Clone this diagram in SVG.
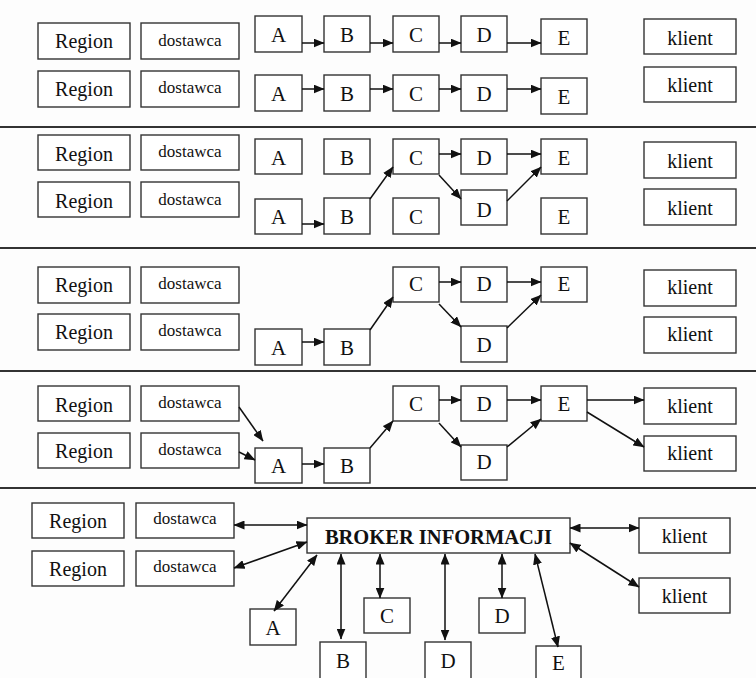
<svg xmlns="http://www.w3.org/2000/svg" width="756" height="678" viewBox="0 0 756 678">
  <defs>
    <marker id="ah" markerUnits="userSpaceOnUse" markerWidth="11" markerHeight="9" refX="10.5" refY="4.5" orient="auto-start-reverse" viewBox="0 0 11 9">
      <path d="M0,0 L11,4.5 L0,9 z" fill="#111"/>
    </marker>
  </defs>
  <style>
    .bg { fill: #fdfdfd; }
    .box { fill: #ffffff; stroke: #333; stroke-width: 1.4; }
    .sep { stroke: #333; stroke-width: 2; }
    text { font-family: "Liberation Serif", Tinos, "Times New Roman", "Noto Serif", "DejaVu Serif", serif; font-weight: normal; fill: #111; text-anchor: middle; }
    .reg { font-size: 20px; }
    .dos { font-size: 17px; }
    .let { font-size: 21px; }
    .kl { font-size: 20px; }
    .brk { font-size: 20.5px; font-weight: bold; }
    .c line { stroke: #111; stroke-width: 1.5; fill: none; marker-end: url(#ah); }
    .c line.bi { marker-start: url(#ah); }
  </style>

  <rect class="bg" x="0" y="0" width="756" height="678"/>

  <!-- band separators -->
  <g id="separators">
    <line class="sep" x1="0" y1="127" x2="756" y2="127"/>
    <line class="sep" x1="0" y1="248" x2="756" y2="248"/>
    <line class="sep" x1="0" y1="371" x2="756" y2="371"/>
    <line class="sep" x1="0" y1="488" x2="756" y2="488"/>
  </g>

  <!-- ===== band 1 ===== -->
  <g id="b1-region1"><rect class="box" x="38" y="23" width="92" height="36"/><text class="reg" x="84" y="48">Region</text></g>
  <g id="b1-dostawca1"><rect class="box" x="141" y="23" width="98" height="36"/><text class="dos" x="190" y="46">dostawca</text></g>
  <g id="b1-a1"><rect class="box" x="255" y="16" width="47" height="36"/><text class="let" x="278.5" y="42">A</text></g>
  <g id="b1-b1"><rect class="box" x="324" y="16" width="46" height="36"/><text class="let" x="347" y="42">B</text></g>
  <g id="b1-c1"><rect class="box" x="393" y="16" width="46" height="36"/><text class="let" x="416" y="42">C</text></g>
  <g id="b1-d1"><rect class="box" x="461" y="16" width="46" height="36"/><text class="let" x="484" y="42">D</text></g>
  <g id="b1-e1"><rect class="box" x="541" y="19" width="46" height="35"/><text class="let" x="564" y="45">E</text></g>
  <g id="b1-klient1"><rect class="box" x="644" y="19" width="92" height="35"/><text class="kl" x="690" y="45">klient</text></g>

  <g id="b1-region2"><rect class="box" x="38" y="71" width="92" height="36"/><text class="reg" x="84" y="96">Region</text></g>
  <g id="b1-dostawca2"><rect class="box" x="141" y="71" width="98" height="36"/><text class="dos" x="190" y="93">dostawca</text></g>
  <g id="b1-a2"><rect class="box" x="255" y="75" width="47" height="36"/><text class="let" x="278.5" y="101">A</text></g>
  <g id="b1-b2"><rect class="box" x="324" y="75" width="46" height="36"/><text class="let" x="347" y="101">B</text></g>
  <g id="b1-c2"><rect class="box" x="393" y="75" width="46" height="36"/><text class="let" x="416" y="101">C</text></g>
  <g id="b1-d2"><rect class="box" x="461" y="75" width="46" height="36"/><text class="let" x="484" y="101">D</text></g>
  <g id="b1-e2"><rect class="box" x="541" y="78" width="46" height="36"/><text class="let" x="564" y="104">E</text></g>
  <g id="b1-klient2"><rect class="box" x="644" y="67" width="92" height="35"/><text class="kl" x="690" y="92">klient</text></g>

  <!-- ===== band 2 ===== -->
  <g id="b2-region1"><rect class="box" x="38" y="135" width="92" height="35"/><text class="reg" x="84" y="161">Region</text></g>
  <g id="b2-dostawca1"><rect class="box" x="141" y="135" width="98" height="35"/><text class="dos" x="190" y="157">dostawca</text></g>
  <g id="b2-a1"><rect class="box" x="255" y="139" width="47" height="35"/><text class="let" x="278.5" y="165">A</text></g>
  <g id="b2-b1"><rect class="box" x="324" y="139" width="46" height="35"/><text class="let" x="347" y="165">B</text></g>
  <g id="b2-c1"><rect class="box" x="393" y="139" width="46" height="35"/><text class="let" x="416" y="165">C</text></g>
  <g id="b2-d1"><rect class="box" x="461" y="139" width="46" height="35"/><text class="let" x="484" y="165">D</text></g>
  <g id="b2-e1"><rect class="box" x="541" y="139" width="46" height="35"/><text class="let" x="564" y="165">E</text></g>
  <g id="b2-klient1"><rect class="box" x="644" y="142" width="92" height="36"/><text class="kl" x="690" y="168">klient</text></g>

  <g id="b2-region2"><rect class="box" x="38" y="182" width="92" height="35"/><text class="reg" x="84" y="208">Region</text></g>
  <g id="b2-dostawca2"><rect class="box" x="141" y="182" width="98" height="35"/><text class="dos" x="190" y="205">dostawca</text></g>
  <g id="b2-a2"><rect class="box" x="255" y="199" width="47" height="35"/><text class="let" x="278.5" y="224">A</text></g>
  <g id="b2-b2"><rect class="box" x="324" y="198" width="46" height="36"/><text class="let" x="347" y="224">B</text></g>
  <g id="b2-c2"><rect class="box" x="393" y="198" width="46" height="36"/><text class="let" x="416" y="224">C</text></g>
  <g id="b2-d2"><rect class="box" x="461" y="190" width="46" height="35"/><text class="let" x="484" y="217">D</text></g>
  <g id="b2-e2"><rect class="box" x="541" y="198" width="46" height="36"/><text class="let" x="564" y="224">E</text></g>
  <g id="b2-klient2"><rect class="box" x="644" y="189" width="92" height="36"/><text class="kl" x="690" y="215">klient</text></g>

  <!-- ===== band 3 ===== -->
  <g id="b3-region1"><rect class="box" x="38" y="267" width="92" height="36"/><text class="reg" x="84" y="292">Region</text></g>
  <g id="b3-dostawca1"><rect class="box" x="141" y="267" width="98" height="36"/><text class="dos" x="190" y="289">dostawca</text></g>
  <g id="b3-region2"><rect class="box" x="38" y="314" width="92" height="36"/><text class="reg" x="84" y="339">Region</text></g>
  <g id="b3-dostawca2"><rect class="box" x="141" y="314" width="98" height="36"/><text class="dos" x="190" y="336">dostawca</text></g>
  <g id="b3-a"><rect class="box" x="255" y="329" width="47" height="36"/><text class="let" x="278.5" y="355">A</text></g>
  <g id="b3-b"><rect class="box" x="324" y="329" width="46" height="36"/><text class="let" x="347" y="355">B</text></g>
  <g id="b3-c"><rect class="box" x="393" y="267" width="46" height="35"/><text class="let" x="416" y="291">C</text></g>
  <g id="b3-d1"><rect class="box" x="461" y="267" width="46" height="35"/><text class="let" x="484" y="291">D</text></g>
  <g id="b3-e"><rect class="box" x="541" y="267" width="46" height="35"/><text class="let" x="564" y="291">E</text></g>
  <g id="b3-d2"><rect class="box" x="461" y="326" width="46" height="36"/><text class="let" x="484" y="352">D</text></g>
  <g id="b3-klient1"><rect class="box" x="644" y="270" width="92" height="36"/><text class="kl" x="690" y="294">klient</text></g>
  <g id="b3-klient2"><rect class="box" x="644" y="317" width="92" height="36"/><text class="kl" x="690" y="341">klient</text></g>

  <!-- ===== band 4 ===== -->
  <g id="b4-region1"><rect class="box" x="38" y="386" width="92" height="35"/><text class="reg" x="84" y="412">Region</text></g>
  <g id="b4-dostawca1"><rect class="box" x="141" y="386" width="98" height="35"/><text class="dos" x="190" y="408">dostawca</text></g>
  <g id="b4-region2"><rect class="box" x="38" y="433" width="92" height="35"/><text class="reg" x="84" y="458">Region</text></g>
  <g id="b4-dostawca2"><rect class="box" x="141" y="433" width="98" height="35"/><text class="dos" x="190" y="455">dostawca</text></g>
  <g id="b4-a"><rect class="box" x="255" y="448" width="47" height="35"/><text class="let" x="278.5" y="473">A</text></g>
  <g id="b4-b"><rect class="box" x="324" y="448" width="46" height="35"/><text class="let" x="347" y="473">B</text></g>
  <g id="b4-c"><rect class="box" x="393" y="386" width="46" height="35"/><text class="let" x="416" y="411">C</text></g>
  <g id="b4-d1"><rect class="box" x="461" y="386" width="46" height="35"/><text class="let" x="484" y="411">D</text></g>
  <g id="b4-e"><rect class="box" x="541" y="386" width="46" height="35"/><text class="let" x="564" y="411">E</text></g>
  <g id="b4-d2"><rect class="box" x="461" y="445" width="46" height="35"/><text class="let" x="484" y="469">D</text></g>
  <g id="b4-klient1"><rect class="box" x="644" y="388" width="92" height="36"/><text class="kl" x="690" y="413">klient</text></g>
  <g id="b4-klient2"><rect class="box" x="644" y="436" width="92" height="35"/><text class="kl" x="690" y="460">klient</text></g>

  <!-- ===== band 5 ===== -->
  <g id="b5-region1"><rect class="box" x="32" y="503" width="92" height="35"/><text class="reg" x="78" y="528">Region</text></g>
  <g id="b5-dostawca1"><rect class="box" x="136" y="503" width="98" height="35"/><text class="dos" x="185" y="524">dostawca</text></g>
  <g id="b5-region2"><rect class="box" x="32" y="551" width="92" height="35"/><text class="reg" x="78" y="576">Region</text></g>
  <g id="b5-dostawca2"><rect class="box" x="136" y="551" width="98" height="35"/><text class="dos" x="185" y="572">dostawca</text></g>
  <g id="b5-broker"><rect class="box" x="307" y="518" width="263" height="35"/><text class="brk" x="438.5" y="544">BROKER INFORMACJI</text></g>
  <g id="b5-a"><rect class="box" x="250" y="609" width="46" height="36"/><text class="let" x="273" y="635">A</text></g>
  <g id="b5-b"><rect class="box" x="320" y="642" width="46" height="38"/><text class="let" x="343" y="668">B</text></g>
  <g id="b5-c"><rect class="box" x="364" y="598" width="46" height="35"/><text class="let" x="387" y="623">C</text></g>
  <g id="b5-d1"><rect class="box" x="425" y="642" width="46" height="38"/><text class="let" x="448" y="668">D</text></g>
  <g id="b5-d2"><rect class="box" x="479" y="598" width="46" height="35"/><text class="let" x="502" y="623">D</text></g>
  <g id="b5-e"><rect class="box" x="536" y="646" width="45" height="36"/><text class="let" x="558.5" y="670">E</text></g>
  <g id="b5-klient1"><rect class="box" x="639" y="518" width="91" height="35"/><text class="kl" x="684.5" y="543">klient</text></g>
  <g id="b5-klient2"><rect class="box" x="639" y="578" width="91" height="35"/><text class="kl" x="684.5" y="603">klient</text></g>

  <!-- connectors -->
  <g id="connectors" class="c">
    <!-- band 1 -->
    <line x1="302" y1="43" x2="324" y2="43"/>
    <line x1="370" y1="43" x2="393" y2="43"/>
    <line x1="439" y1="43" x2="461" y2="43"/>
    <line x1="507" y1="43" x2="541" y2="43"/>
    <line x1="302" y1="89" x2="324" y2="89"/>
    <line x1="370" y1="89" x2="393" y2="89"/>
    <line x1="439" y1="89" x2="461" y2="89"/>
    <line x1="507" y1="89" x2="541" y2="89"/>
    <!-- band 2 -->
    <line x1="302" y1="224" x2="324" y2="224"/>
    <line x1="370" y1="199" x2="393" y2="167"/>
    <line x1="439" y1="154" x2="461" y2="154"/>
    <line x1="507" y1="154" x2="541" y2="154"/>
    <line x1="439" y1="175" x2="461" y2="199"/>
    <line x1="507" y1="201" x2="541" y2="167"/>
    <!-- band 3 -->
    <line x1="302" y1="342" x2="324" y2="342"/>
    <line x1="370" y1="330" x2="393" y2="297"/>
    <line x1="439" y1="282" x2="461" y2="282"/>
    <line x1="507" y1="282" x2="541" y2="282"/>
    <line x1="439" y1="304" x2="461" y2="327"/>
    <line x1="507" y1="328" x2="541" y2="295"/>
    <!-- band 4 -->
    <line x1="239" y1="407" x2="263" y2="441"/>
    <line x1="239" y1="452" x2="255" y2="460"/>
    <line x1="302" y1="464" x2="324" y2="464"/>
    <line x1="370" y1="448" x2="393" y2="421"/>
    <line x1="439" y1="400" x2="461" y2="400"/>
    <line x1="507" y1="400" x2="541" y2="400"/>
    <line x1="439" y1="423" x2="461" y2="447"/>
    <line x1="507" y1="447" x2="541" y2="419"/>
    <line x1="587" y1="400" x2="644" y2="400"/>
    <line x1="587" y1="412" x2="644" y2="447"/>
    <!-- band 5: two-way links to the broker -->
    <line class="bi" x1="234" y1="525" x2="307" y2="525"/>
    <line class="bi" x1="234" y1="568" x2="307" y2="542"/>
    <line class="bi" x1="274" y1="611" x2="317" y2="555"/>
    <line class="bi" x1="341" y1="554" x2="341" y2="639"/>
    <line class="bi" x1="380" y1="554" x2="380" y2="598"/>
    <line class="bi" x1="445" y1="554" x2="445" y2="640"/>
    <line class="bi" x1="502" y1="554" x2="502" y2="598"/>
    <line class="bi" x1="535" y1="554" x2="558" y2="647"/>
    <line class="bi" x1="570" y1="528" x2="639" y2="528"/>
    <line class="bi" x1="570" y1="543" x2="639" y2="587"/>
  </g>
</svg>
